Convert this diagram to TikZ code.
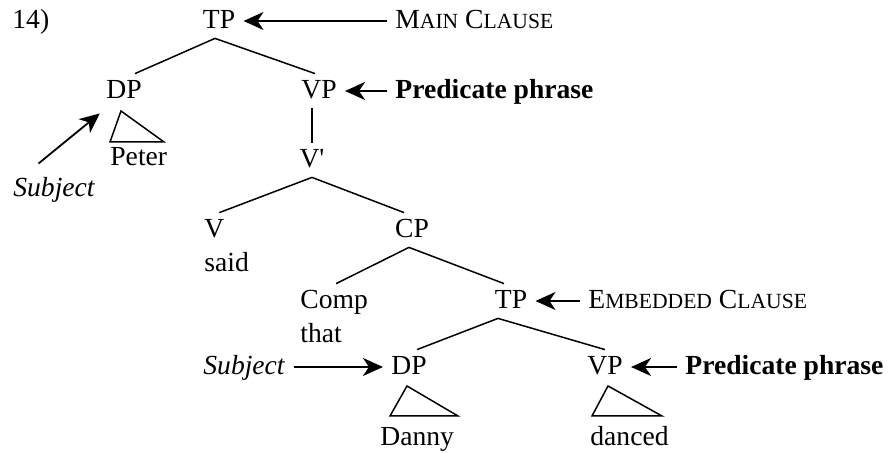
\documentclass[tikz,border=0pt]{standalone}
\usepackage{fontspec}
\setmainfont{Liberation Serif}
\usetikzlibrary{arrows.meta, calc}

\newcommand{\lowsc}[1]{{\fontsize{10.8pt}{12pt}\selectfont #1}}

\tikzset{
  lbl/.style={inner xsep=0pt, inner ysep=3pt, text height=9.5pt, text depth=1.5pt},
  branch/.style={line width=0.75pt},
  roof/.style={line width=0.75pt, line join=miter},
  pointer/.style={line width=0.9pt, -{Stealth[length=10pt, width=9pt, inset=3pt]},
                  shorten <=4pt, shorten >=4pt},
}

\begin{document}
\begin{tikzpicture}[x=0.5pt, y=-0.5pt, font=\fontsize{13.8pt}{15pt}\selectfont]
  \useasboundingbox (0,0) rectangle (889,453);

  % Main clause
  \node[lbl, anchor=base west] (num) at (12,29) {14)};
  \node[lbl, anchor=base] (tpa) at (219,29) {TP};
  \node[lbl, anchor=base west] (mainc) at (395,29) {M\lowsc{AIN} C\lowsc{LAUSE}};
  \node[lbl, anchor=base] (dpa) at (124,99) {DP};
  \node[lbl, anchor=base] (vpa) at (319,99) {VP};
  \node[lbl, anchor=base west] (preda) at (395,99) {\textbf{Predicate phrase}};
  \node[lbl, anchor=base west] (peter) at (110,166) {Peter};
  \node[lbl, anchor=base west] (subja) at (13,197) {\textit{Subject}};
  \node[lbl, anchor=base] (vbar) at (312,168) {V\textquotesingle};
  \node[lbl, anchor=base west] (v) at (204,238) {V};
  \node[lbl, anchor=base west] (said) at (204,272) {said};
  \node[lbl, anchor=base west] (comp) at (300,309) {Comp};
  \node[lbl, anchor=base] (cp) at (412,238) {CP};
  \node[lbl, anchor=base west] (that) at (300,343) {that};

  % Embedded clause
  \node[lbl, anchor=base] (tpb) at (511,309) {TP};
  \node[lbl, anchor=base west] (embc) at (588,309) {E\lowsc{MBEDDED} C\lowsc{LAUSE}};
  \node[lbl, anchor=base west] (subjb) at (203,375) {\textit{Subject}};
  \node[lbl, anchor=base] (dpb) at (409,375) {DP};
  \node[lbl, anchor=base] (vpb) at (605,375) {VP};
  \node[lbl, anchor=base west] (predb) at (685,375) {\textbf{Predicate phrase}};
  \node[lbl, anchor=base west] (danny) at (380,446) {Danny};
  \node[lbl, anchor=base west] (danced) at (590,446) {danced};

  % Branches
  \draw[branch] ($(tpa.south)+(-4,0)$) -- ($(dpa.north)+(11,0)$);
  \draw[branch] ($(tpa.south)+(-4,0)$) -- ($(vpa.north)+(-4,0)$);
  \draw[branch] (vbar.north |- vpa.south) -- (vbar.north);
  \draw[branch] (vbar.south) -- ($(v.north)+(5,0)$);
  \draw[branch] (vbar.south) -- ($(cp.north)+(-8,0)$);
  \draw[branch] ($(cp.south)+(-3,0)$) -- ($(comp.north)+(2,0)$);
  \draw[branch] ($(cp.south)+(-3,0)$) -- ($(tpb.north)+(-7,0)$);
  \draw[branch] ($(tpb.south)+(-13,0)$) -- ($(dpb.north)+(8,0)$);
  \draw[branch] ($(tpb.south)+(-13,0)$) -- (vpb.north);

  % Roofs
  \draw[roof] ($(dpa.base)+(-3,12)$) -- ($(dpa.base)+(-14,43)$) -- ($(dpa.base)+(40,43)$) -- cycle;
  \draw[roof] ($(dpb.base)+(-2,11)$) -- ($(dpb.base)+(-19,41)$) -- ($(dpb.base)+(49,41)$) -- cycle;
  \draw[roof] ($(vpb.base)+(3,11)$) -- ($(vpb.base)+(-13,41)$) -- ($(vpb.base)+(57,41)$) -- cycle;

  % Pointers
  \draw[pointer] (mainc.west) -- (tpa.east);
  \draw[pointer] (preda.west) -- (vpa.east);
  \draw[pointer] ($(subja.north)+(-22,-3)$) -- (dpa.south west);
  \draw[pointer] (embc.west) -- (tpb.east);
  \draw[pointer] (subjb.east) -- (dpb.west);
  \draw[pointer] (predb.west) -- (vpb.east);
\end{tikzpicture}
\end{document}
